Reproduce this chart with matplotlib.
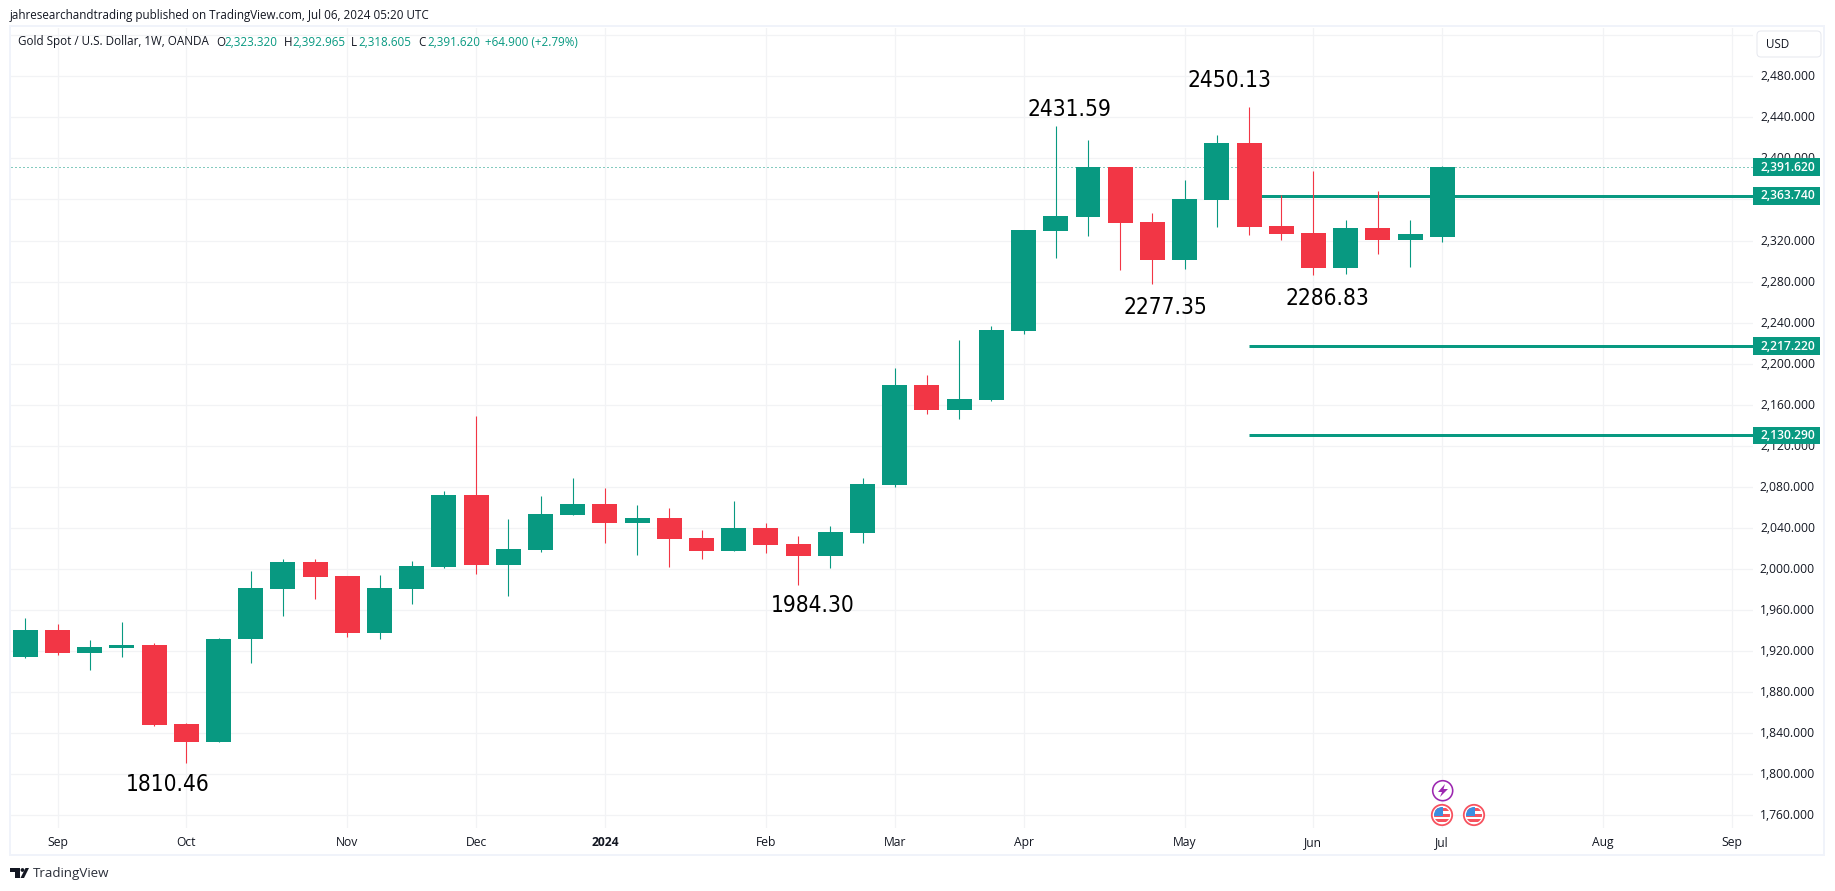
import matplotlib
matplotlib.use("Agg")
import matplotlib.pyplot as plt
from matplotlib.patches import Rectangle, Circle, FancyBboxPatch, Polygon
from matplotlib.transforms import ScaledTranslation

# ---------- data (weekly OHLC) ----------
opens = [1914.2, 1940.5, 1918.1, 1922.9, 1925.9, 1848.9, 1831.3, 1931.7, 1980.5, 2006.8,
         1993.2, 1937.5, 1980.5, 2002.0, 2072.0, 2003.9, 2018.5, 2052.6, 2063.3, 2044.8,
         2049.6, 2030.2, 2017.5, 2039.9, 2024.3, 2012.6, 2035.0, 2081.8, 2179.2, 2154.9,
         2164.6, 2231.8, 2329.3, 2342.9, 2391.6, 2338.0, 2301.0, 2359.5, 2415.0, 2334.2,
         2327.3, 2293.2, 2332.2, 2320.5, 2323.3]
highs = [1952.0, 1946.3, 1930.7, 1948.3, 1927.8, 1849.9, 1932.7, 1998.0, 2009.7, 2009.7,
         1993.2, 1994.1, 2007.7, 2075.9, 2149.0, 2048.7, 2071.0, 2088.6, 2078.9, 2062.3,
         2059.4, 2037.9, 2066.2, 2044.8, 2032.1, 2041.8, 2088.6, 2195.8, 2189.0, 2223.0,
         2236.7, 2330.2, 2431.6, 2417.9, 2391.6, 2346.8, 2379.0, 2422.8, 2450.1, 2364.4,
         2387.7, 2340.0, 2368.2, 2340.0, 2392.6]
lows =  [1913.2, 1916.1, 1901.5, 1914.2, 1846.9, 1810.5, 1831.3, 1908.3, 1954.1, 1970.7,
         1933.6, 1931.7, 1965.8, 2000.9, 1995.1, 1973.6, 2016.5, 2052.6, 2025.3, 2013.6,
         2001.9, 2009.7, 2017.5, 2015.5, 1984.3, 2000.9, 2025.3, 2079.8, 2151.0, 2146.1,
         2163.6, 2228.9, 2303.0, 2324.4, 2291.3, 2277.4, 2292.2, 2333.2, 2325.4, 2320.5,
         2286.8, 2287.4, 2306.9, 2294.2, 2318.6]
closes = [1940.5, 1918.1, 1923.9, 1925.9, 1847.9, 1831.3, 1931.7, 1981.4, 2006.8, 1992.2,
          1937.5, 1981.4, 2002.9, 2072.0, 2003.9, 2019.4, 2053.5, 2063.3, 2044.8, 2049.6,
          2029.2, 2017.5, 2039.9, 2023.3, 2012.6, 2036.0, 2082.8, 2179.2, 2154.9, 2165.6,
          2232.8, 2330.2, 2343.9, 2391.6, 2337.1, 2301.0, 2360.5, 2415.0, 2333.2, 2326.4,
          2293.2, 2332.2, 2320.5, 2326.4, 2391.6]

y_ticks = [1760, 1800, 1840, 1880, 1920, 1960, 2000, 2040, 2080, 2120, 2160, 2200,
           2240, 2280, 2320, 2360, 2400, 2440, 2480, 2520]
hidden_y_labels = [2360, 2520]
x_ticks = [1, 5, 10, 14, 18, 23, 27, 31, 36, 40, 44, 49, 53]
x_labels = ["Sep", "Oct", "Nov", "Dec", "2024", "Feb", "Mar", "Apr", "May", "Jun", "Jul", "Aug", "Sep"]

level_start = 38
level_values = [2363.74, 2217.22, 2130.29]
last_close = 2391.62

note_texts = ["2431.59", "2450.13", "2277.35", "2286.83", "1984.30", "1810.46"]
note_x = [32.41, 37.40, 35.42, 40.42, 24.45, 4.43]
note_y = [2448.0, 2476.0, 2254.5, 2263.3, 1964.8, 1789.6]

# ---------- style ----------
UP = "#089981"
DOWN = "#f23645"
INK = "#131722"
GRID = "#f2f3f5"
BORDER = "#f0f3fa"
FONT = "Open Sans"
W, H = 1835, 891
px = 0.72  # one pixel in points at dpi 100

plt.rcParams["font.family"] = [FONT, "DejaVu Sans"]
fig = plt.figure(figsize=(W / 100, H / 100), dpi=100, facecolor="white")

L, R, T, B = 11, 1753, 28, 828
ax = fig.add_axes([L / W, 1 - B / H, (R - L) / W, (B - T) / H])
ax.set_xlim(-0.444, 53.65)
ax.set_ylim(1747.6, 2527.06)
for s in ax.spines.values():
    s.set_visible(False)
ax.set_axisbelow(True)
ax.grid(True, color=GRID, lw=1.2 * px)

ax.yaxis.tick_right()
ax.set_yticks(y_ticks)
ax.set_yticklabels(["" if v in hidden_y_labels else f"{v:,.3f}" for v in y_ticks],
                   fontsize=8.7, color=INK, ha="right", va="center_baseline")
ax.tick_params(axis="y", length=0, pad=62 * px)
up_one_px = ScaledTranslation(0, 1 / 100, fig.dpi_scale_trans)
for tick in ax.yaxis.get_major_ticks():
    tick.label2.set_transform(tick.label2.get_transform() + up_one_px)
ax.set_xticks(x_ticks)
ax.set_xticklabels(x_labels, fontsize=8.7, color=INK)
ax.tick_params(axis="x", length=0, pad=8 * px)
for lab in ax.get_xticklabels():
    if lab.get_text() == "2024":
        lab.set_fontweight("bold")

# level lines
for v in level_values:
    ax.plot([level_start, 53.65], [v, v], color=UP, lw=3 * px, zorder=2, solid_capstyle="butt")
ax.axhline(last_close, color=UP, lw=1 * px, ls=(0, (1, 3)), zorder=2)

# candles
for i, (o, h, l, c) in enumerate(zip(opens, highs, lows, closes)):
    col = UP if c >= o else DOWN
    ax.plot([i, i], [l, h], color=col, lw=1.1 * px, zorder=3, solid_capstyle="butt")
    ax.add_patch(Rectangle((i - 0.388, min(o, c)), 0.776, abs(c - o), facecolor=col,
                           edgecolor="none", zorder=4))

# notes
for t, x, y in zip(note_texts, note_x, note_y):
    ax.text(x, y, t, color="black", ha="center", va="center", fontsize=16.3,
            stretch="condensed", family="DejaVu Sans", zorder=6)

# price tags
yt = ax.get_yaxis_transform()
right_frac = 1 + 67 / (R - L)
text_frac = 1 + 62 / (R - L)
for v in [last_close] + level_values:
    ax.add_patch(Rectangle((1, v - 8.8), right_frac - 1, 17.2, transform=yt, facecolor=UP,
                           edgecolor="none", clip_on=False, zorder=7))
    ax.text(text_frac, v, f"{v:,.3f}", transform=yt, fontsize=8.7, color="white",
            ha="right", va="center", fontweight="semibold", clip_on=False, zorder=8)

# ---------- chrome in pixel coordinates ----------
ov = fig.add_axes([0, 0, 1, 1], zorder=10)
ov.set_xlim(0, W)
ov.set_ylim(H, 0)
ov.axis("off")
ov.patch.set_alpha(0)

ov.add_patch(Rectangle((10, 26), 1814, 829, fill=False, edgecolor=BORDER, lw=2 * px))
ov.add_patch(FancyBboxPatch((1759, 33), 60, 22, boxstyle="round,pad=2,rounding_size=4",
                            facecolor="white", edgecolor="#e6e8ef", lw=1 * px))
ov.text(1766, 44.5, "USD", fontsize=8.4, color=INK, va="center")

ov.text(10, 15, "jahresearchandtrading published on TradingView.com, Jul 06, 2024 05:20 UTC",
        fontsize=8.4, color=INK, va="center")
ov.text(18, 42, "Gold Spot / U.S. Dollar, 1W, OANDA", fontsize=8.4, color=INK, va="center")
for x, t in zip([216, 284, 351, 418], "OHLC"):
    ov.text(x, 42, t, fontsize=8.4, color=INK, va="center")
for x, t in zip([224, 292, 358, 427, 485],
                ["2,323.320", "2,392.965", "2,318.605", "2,391.620", "+64.900 (+2.79%)"]):
    ov.text(x, 42, t, fontsize=8.4, color=UP, va="center")

# TradingView logo and name
ov.add_patch(Polygon([(10, 868), (20, 868), (20, 878), (15, 878), (15, 872), (10, 872)],
                     facecolor=INK, edgecolor="none"))
ov.add_patch(Circle((22.5, 870), 1.9, facecolor=INK, edgecolor="none"))
ov.add_patch(Polygon([(24, 878), (20.5, 878), (25.5, 868), (29, 868)], facecolor=INK, edgecolor="none"))
ov.text(33, 873.5, "TradingView", fontsize=9.6, color="#2a2e39", va="center")

# event icons
PURPLE = "#9c27b0"
FLAG_RED = "#f7525f"
ov.add_patch(Circle((1442.7, 790.7), 10, facecolor="white", edgecolor=PURPLE, lw=1.6 * px))
ov.add_patch(Polygon([(1445, 784), (1438, 792), (1442, 792), (1440, 797), (1448, 789), (1443.5, 789)],
                     facecolor=PURPLE, edgecolor="none"))
for cx in (1442, 1474):
    ov.add_patch(Circle((cx, 815), 10.2, facecolor="white", edgecolor=FLAG_RED, lw=1.8 * px))
    clip = Circle((cx, 815), 8, transform=ov.transData)
    for top in (808, 813.5, 819):
        r = Rectangle((cx - 9, top), 18, 3, facecolor=FLAG_RED, edgecolor="none")
        ov.add_patch(r)
        r.set_clip_path(clip)
    b = Rectangle((cx - 9, 807), 9.5, 8.5, facecolor="#3d8de0", edgecolor="none")
    ov.add_patch(b)
    b.set_clip_path(clip)

fig.savefig("out.png", dpi=100, facecolor="white")
